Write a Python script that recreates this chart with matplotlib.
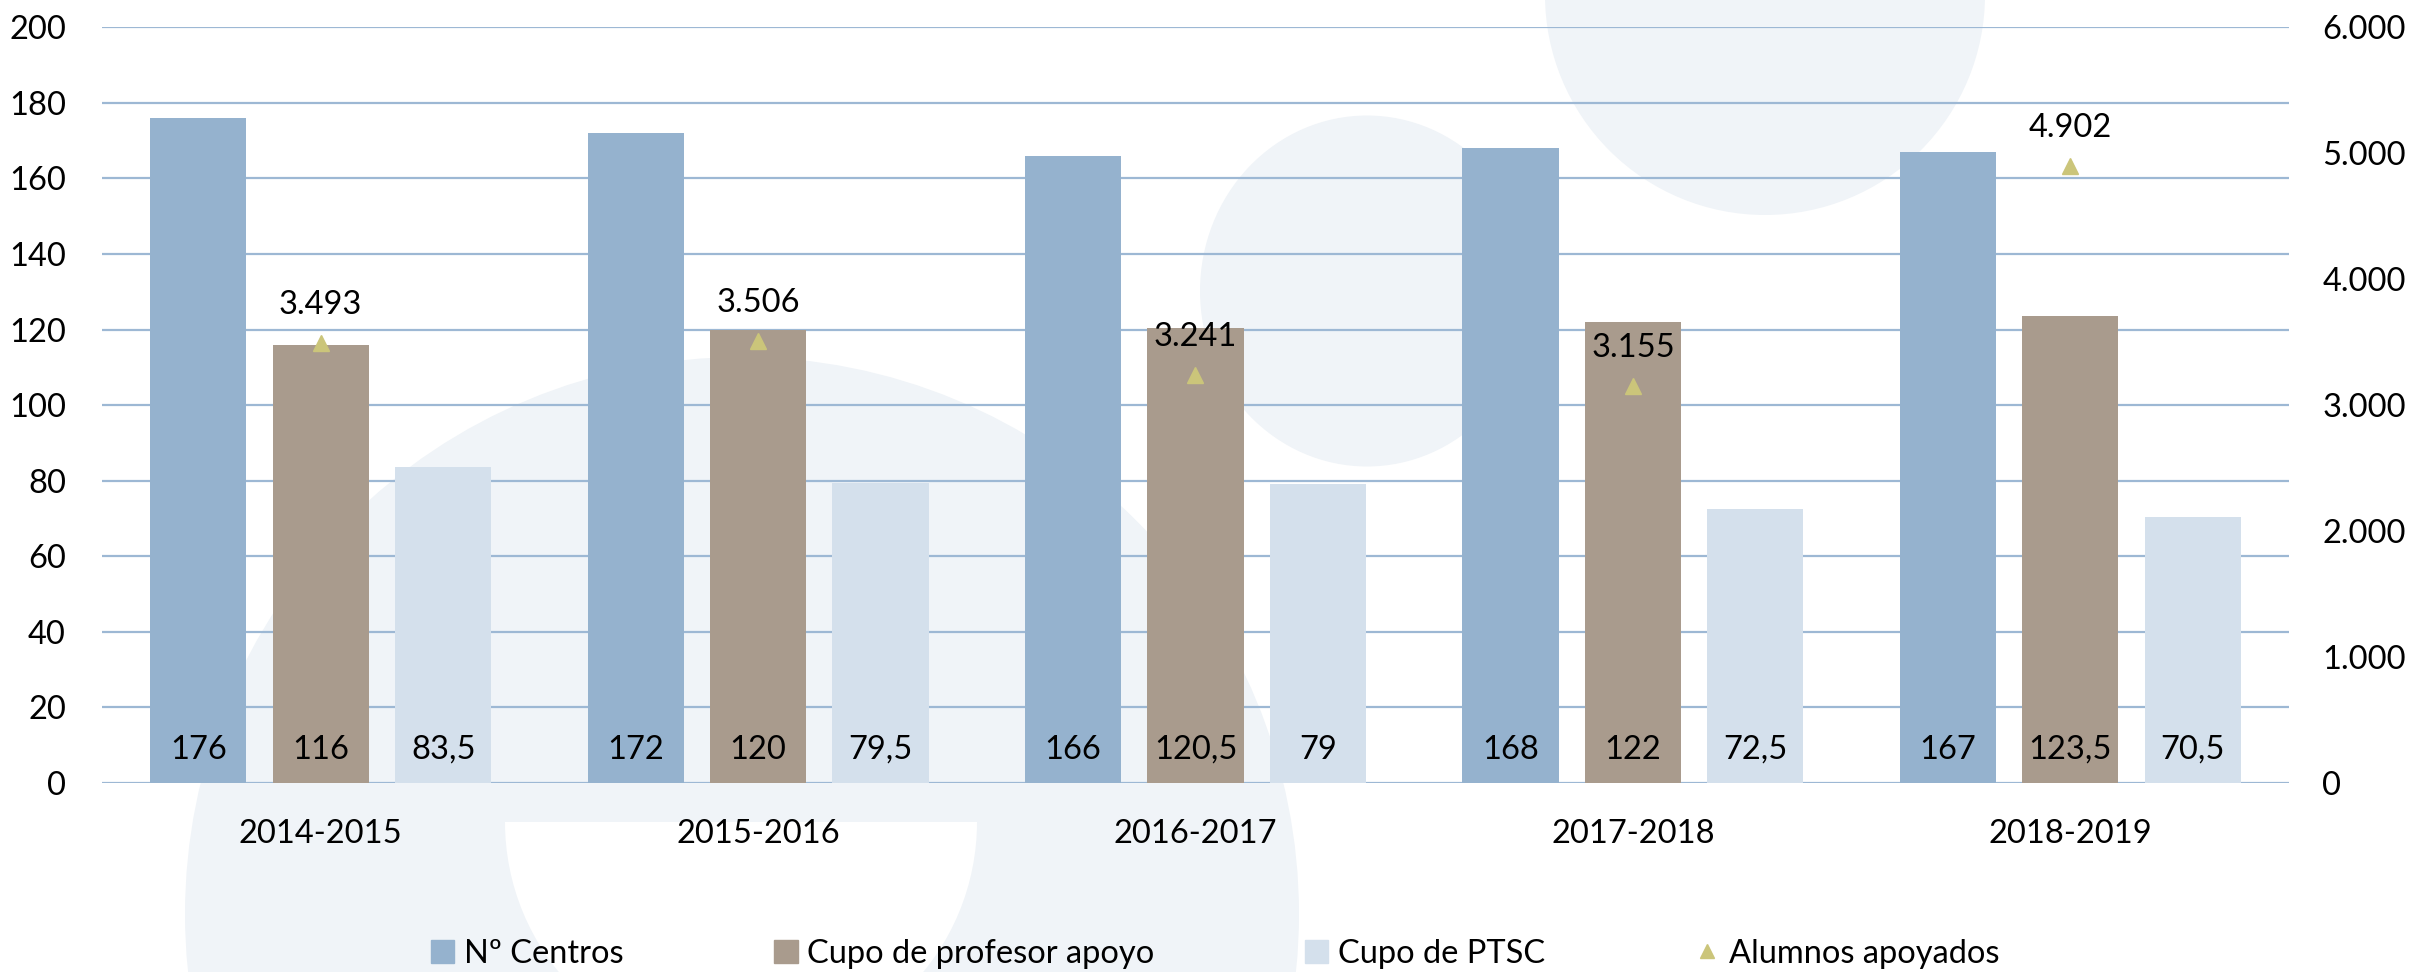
import matplotlib
matplotlib.use("Agg")
import matplotlib.pyplot as plt
from matplotlib.patches import Circle, Ellipse, Wedge, Patch
from matplotlib.lines import Line2D
import numpy as np

# ---- data ----
categories = ["2014-2015", "2015-2016", "2016-2017", "2017-2018", "2018-2019"]
centros = [176, 172, 166, 168, 167]
cupo_profesor = [116, 120, 120.5, 122, 123.5]
cupo_ptsc = [83.5, 79.5, 79, 72.5, 70.5]
alumnos = [3493, 3506, 3241, 3155, 4902]
series_names = ["Nº Centros", "Cupo de profesor apoyo", "Cupo de PTSC", "Alumnos apoyados"]
left_ticks = list(range(0, 201, 20))
right_ticks = list(range(0, 6001, 1000))

# ---- style ----
FONT = ["Lato", "DejaVu Sans"]
plt.rcParams['font.family'] = FONT
FS = 23.5
C_CENTROS = "#95B2CE"
C_PROF = "#A99B8D"
C_PTSC = "#D4E0EC"
C_TRI = "#CBC57A"
C_GRID = "#9DB8D4"
C_BG = "#F0F4F8"

W, H = 2415, 972
fig = plt.figure(figsize=(W / 100, H / 100), dpi=100)
fig.patch.set_facecolor("white")

# background decoration in pixel coordinates
bg = fig.add_axes([0, 0, 1, 1], zorder=0)
bg.set_xlim(0, W)
bg.set_ylim(H, 0)
bg.axis("off")
bg.add_patch(Circle((742, 914), 557, color=C_BG, lw=0))
bg.add_patch(Wedge((741, 822), 236, 0, 180, color="white", lw=0))
bg.add_patch(Ellipse((1367, 291), 334, 351, color=C_BG, lw=0))
bg.add_patch(Circle((1765, -5), 220, color=C_BG, lw=0))

# main axes
left, right = 102 / W, 2289 / W
bottom, top = 1 - 783 / H, 1 - 27.3 / H
ax = fig.add_axes([left, bottom, right - left, top - bottom], zorder=1)
ax.set_facecolor("none")
ax2 = ax.twinx()
ax2.set_zorder(2)
ax2.set_facecolor("none")

x = np.arange(len(categories))
bw = 0.22
off = 0.28
ax.bar(x - off, centros, bw, color=C_CENTROS, zorder=3)
ax.bar(x, cupo_profesor, bw, color=C_PROF, zorder=3)
ax.bar(x + off, cupo_ptsc, bw, color=C_PTSC, zorder=3)

def fmt_dec(v):
    return ("%g" % v).replace(".", ",")

for xs, vals in ((x - off, centros), (x, cupo_profesor), (x + off, cupo_ptsc)):
    for xi, v in zip(xs, vals):
        ax.annotate(fmt_dec(v), (xi, 0), xytext=(0, 33 * 0.72), textcoords="offset points",
                    ha="center", va="center", fontsize=FS, color="black", zorder=5)

ax.set_xlim(-0.5, len(categories) - 0.5)
ax.set_ylim(0, 200)
ax.set_yticks(left_ticks)
ax.set_yticklabels([str(t) for t in left_ticks])
ax.set_xticks(x)
ax.set_xticklabels(categories)
ax.tick_params(axis="y", length=0, pad=26, labelsize=FS)
ax.tick_params(axis="x", length=0, pad=26, labelsize=FS)
ax.yaxis.grid(True, color=C_GRID, linewidth=1.6, zorder=1)
ax.set_axisbelow(True)
for s in ax.spines.values():
    s.set_visible(False)

# secondary axis
ax2.plot(x, alumnos, linestyle="none", marker="^", markersize=11, color=C_TRI, zorder=4)
for xi, v in zip(x, alumnos):
    ax2.annotate(f"{v:,}".replace(",", "."), (xi, v), xytext=(0, 38 * 0.72), textcoords="offset points",
                 ha="center", va="center", fontsize=FS, color="black")
ax2.set_ylim(0, 6000)
ax2.set_yticks(right_ticks)
ax2.set_yticklabels([f"{t:,}".replace(",", ".") for t in right_ticks])
ax2.tick_params(axis="y", length=0, pad=24, labelsize=FS)
for s in ax2.spines.values():
    s.set_visible(False)

# legend
handles = [Patch(color=C_CENTROS), Patch(color=C_PROF), Patch(color=C_PTSC),
           Line2D([], [], linestyle="none", marker="^", markersize=10, color=C_TRI)]
fig.legend(handles, series_names, loc="center", bbox_to_anchor=(1215 / W, 1 - 954 / H),
           ncol=4, frameon=False, fontsize=FS, handlelength=0.72, handleheight=0.72,
           handletextpad=0.3, columnspacing=4.6, borderaxespad=0)

fig.savefig("out.png", dpi=100)
